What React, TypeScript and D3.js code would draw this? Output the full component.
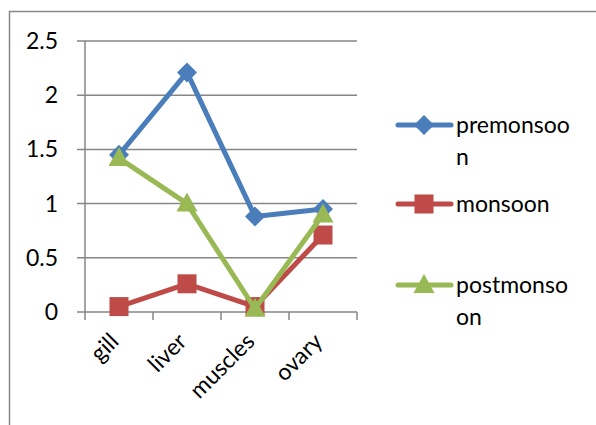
import React from 'react';
import * as d3 from 'd3';

const categories = ['gill', 'liver', 'muscles', 'ovary'];
const premonsoon = [1.45, 2.21, 0.88, 0.95];
const monsoon = [0.05, 0.26, 0.05, 0.71];
const postmonsoon = [1.42, 1.0, 0.03, 0.9];
const yTicks = [0, 0.5, 1, 1.5, 2, 2.5];

const series = [
  { name: ['premonsoo', 'n'], values: premonsoon, color: '#4A7EBB', shape: 'diamond' },
  { name: ['monsoon'], values: monsoon, color: '#BE4B48', shape: 'square' },
  { name: ['postmonso', 'on'], values: postmonsoon, color: '#98B954', shape: 'triangle' },
];

const W = 596,
  H = 425;
const left = 85,
  right = 357,
  top = 41,
  bottom = 312;
const font = 'Lato, "Open Sans", sans-serif';
const fs = 23;

const Marker = ({ shape, x, y, color }) => {
  if (shape === 'diamond') {
    const r = 10;
    return <path d={`M${x},${y - r}L${x + r},${y}L${x},${y + r}L${x - r},${y}Z`} fill={color} />;
  }
  if (shape === 'square') {
    return <rect x={x - 9.5} y={y - 9.5} width={19} height={19} fill={color} />;
  }
  return <path d={`M${x},${y - 11}L${x + 10.5},${y + 8}L${x - 10.5},${y + 8}Z`} fill={color} />;
};

const App = () => {
  const x = d3.scaleBand().domain(categories).range([left, right]);
  const y = d3.scaleLinear().domain([0, 2.5]).range([bottom, top]);
  const line = d3
    .line<number>()
    .x((_, i) => x(categories[i])! + x.bandwidth() / 2)
    .y((d) => y(d));
  const xEdges = categories.map((c) => x(c)!).concat([right]);
  const legendY = [125, 204, 285];

  return (
    <svg width={W} height={H} style={{ position: 'absolute', left: 0, top: 0, background: '#fff' }}>
      <rect x={0} y={0} width={W} height={H} fill="#fff" />
      <path d={`M9.5,${H}V11.5H${W}`} fill="none" stroke="#868686" strokeWidth={1.5} />
      {yTicks.map((t) => (
        <g key={t}>
          <line x1={77} x2={right} y1={y(t)} y2={y(t)} stroke="#868686" strokeWidth={1.5} />
          <text x={58} y={y(t)} dy="0.35em" textAnchor="end" fontFamily={font} fontSize={fs} fill="#000">
            {t}
          </text>
        </g>
      ))}
      <line x1={left} x2={left} y1={top} y2={bottom} stroke="#868686" strokeWidth={1.5} />
      {xEdges.map((e, i) => (
        <line key={i} x1={e} x2={e} y1={bottom} y2={bottom + 8} stroke="#868686" strokeWidth={1.5} />
      ))}
      {categories.map((c) => {
        const cx = x(c)! + x.bandwidth() / 2 + 1;
        const cy = bottom + 31;
        return (
          <text
            key={c}
            transform={`translate(${cx},${cy}) rotate(-45)`}
            textAnchor="end"
            fontFamily={font}
            fontSize={fs}
            fill="#000"
          >
            {c}
          </text>
        );
      })}
      {series.map((s) => (
        <g key={s.name.join('')}>
          <path d={line(s.values)!} fill="none" stroke={s.color} strokeWidth={5} strokeLinejoin="round" strokeLinecap="round" />
          {s.values.map((v, i) => (
            <Marker key={i} shape={s.shape} x={x(categories[i])! + x.bandwidth() / 2} y={y(v)} color={s.color} />
          ))}
        </g>
      ))}
      {series.map((s, i) => (
        <g key={'lg' + i}>
          <line x1={398} x2={451} y1={legendY[i]} y2={legendY[i]} stroke={s.color} strokeWidth={5} strokeLinecap="round" />
          <Marker shape={s.shape} x={424} y={legendY[i]} color={s.color} />
          {s.name.map((n, j) => (
            <text key={j} x={456} y={legendY[i] + 8 + j * 32} fontFamily={font} fontSize={fs} fill="#000">
              {n}
            </text>
          ))}
        </g>
      ))}
    </svg>
  );
};

export default App;
